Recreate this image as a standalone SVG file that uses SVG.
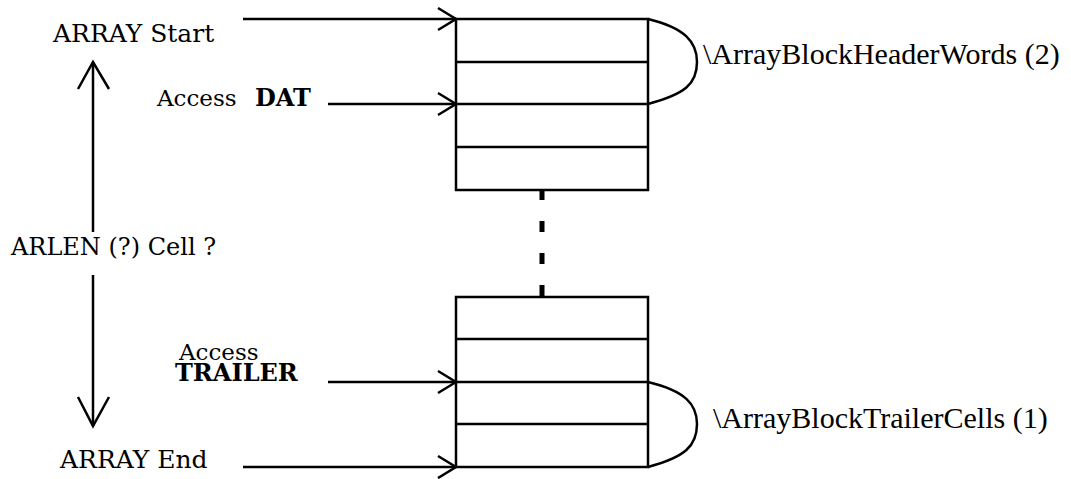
<svg xmlns="http://www.w3.org/2000/svg" width="1071" height="479" viewBox="0 0 1071 479">
<style>
.ln{stroke:#000;stroke-width:2.5;fill:none}
.cell{stroke:#000;stroke-width:2.5;fill:#fff}
.lbl{font-family:"DejaVu Serif","Liberation Serif",serif;font-size:24px;fill:#000}
.b{font-weight:bold}
.rt{font-family:"Liberation Serif","Times New Roman",serif;font-size:30px;fill:#000}
</style>
<rect width="1071" height="479" fill="#fff"/>
<g id="top-block">
<rect class="cell" x="456" y="19" width="192" height="171"/>
<line class="ln" x1="456" y1="62" x2="648" y2="62"/>
<line class="ln" x1="456" y1="104" x2="648" y2="104"/>
<line class="ln" x1="456" y1="147" x2="648" y2="147"/>
</g>
<g id="bottom-block">
<rect class="cell" x="456" y="297" width="192" height="170"/>
<line class="ln" x1="456" y1="339" x2="648" y2="339"/>
<line class="ln" x1="456" y1="382" x2="648" y2="382"/>
<line class="ln" x1="456" y1="424" x2="648" y2="424"/>
</g>
<g id="labels">
<text class="lbl" x="53" y="42" font-size="25" style="font-size:25px">ARRAY Start</text>
<text class="lbl" x="157" y="106" style="font-size:23px">Access</text>
<text class="lbl b" x="255" y="106">DAT</text>
<text class="lbl" x="11" y="255">ARLEN (?) Cell ?</text>
<text class="lbl" x="179" y="360" style="font-size:23px">Access</text>
<text class="lbl b" x="175" y="381">TRAILER</text>
<text class="lbl" x="60" y="468" style="font-size:25px">ARRAY End</text>
<text class="rt" x="703" y="64">\ArrayBlockHeaderWords (2)</text>
<text class="rt" x="713" y="428">\ArrayBlockTrailerCells (1)</text>
</g>
<g id="connectors">
<line class="ln" x1="243" y1="19" x2="456" y2="19"/>
<polyline class="ln" points="438,8 456,19 438,30"/>
<line class="ln" x1="328" y1="104" x2="456" y2="104"/>
<polyline class="ln" points="438,93 456,104 438,115"/>
<line class="ln" x1="328" y1="382" x2="456" y2="382"/>
<polyline class="ln" points="438,371 456,382 438,393"/>
<line class="ln" x1="243" y1="467" x2="456" y2="467"/>
<polyline class="ln" points="438,456 456,467 438,478"/>
<line class="ln" x1="93" y1="62" x2="93" y2="232"/>
<polyline class="ln" points="78,89 93,62 109,89"/>
<line class="ln" x1="93" y1="275" x2="93" y2="426"/>
<polyline class="ln" points="78,397 93,426 109,397"/>
<line x1="542" y1="189" x2="542" y2="297" stroke="#000" stroke-width="5" stroke-dasharray="11 21"/>
<path class="ln" d="M648,19 C685,28 697,42 697,62 C697,84 685,94 648,104"/>
<path class="ln" d="M648,382 C685,391 697,404 697,424 C697,446 685,457 648,467"/>
</g>
</svg>
